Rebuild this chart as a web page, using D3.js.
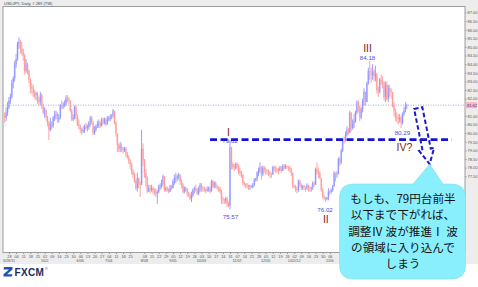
<!DOCTYPE html>
<html>
<head>
<meta charset="utf-8">
<script src="https://d3js.org/d3.v7.min.js"></script>
<style>
    body { margin: 0; background: #fff; }
    svg { display: block; font-family: "Liberation Sans", Arial, sans-serif; }
</style>
</head>
<body>
<div id="chart"></div>
<script>

// USD/JPY daily, 23 Mar 2011 .. 20 Apr 2012 (one row per week)
var startDate = "2011-03-23";
var firstOpen = 81.0;

var closes = [
    80.9, 81.2, 81.5,
    81.9, 82.1, 82.9, 83.2, 84.0,
    84.3, 85.2, 85.3, 84.9, 84.7,
    84.5, 83.6, 84.0, 83.6, 83.1,
    82.7, 82.6, 82.3, 82.2, 82.3,
    81.9, 81.8, 82.2, 81.6, 81.2,
    81.3, 80.9, 80.6, 80.2, 80.6,
    80.4, 80.9, 81.0, 81.1, 80.8,
    80.9, 81.62, 81.55, 81.64, 81.7,
    82.02, 81.96, 81.9, 81.3, 80.8,
    80.9, 81.5, 81.0, 80.5, 80.4,
    80.2, 80.1, 80.2, 80.4, 80.3,
    80.34, 80.6, 80.9, 80.6, 80.0,
    80.2, 80.4, 80.5, 80.6, 80.4,
    80.8, 80.6, 80.8, 80.5, 80.8,
    80.88, 80.93, 81.0, 81.3, 80.6,
    80.0, 79.3, 79.1, 79.2, 79.1,
    79.0, 79.1, 78.8, 78.6, 78.4,
    78.2, 77.8, 77.6, 77.2, 76.8,
    77.4, 77.04, 76.98, 79.1, 78.4,
    77.7, 77.4, 76.6, 76.8, 76.7,
    76.8, 76.7, 76.6, 76.5, 76.6,
    76.9, 76.97, 77.05, 77.5, 76.7,
    76.8, 76.7, 76.6, 76.9, 76.8,
    77.2, 77.4, 77.4, 77.5, 77.6,
    77.2, 77.0, 76.6, 76.8, 76.8,
    76.5, 76.4, 76.2, 76.4, 76.7,
    76.8, 76.7, 76.5, 76.8, 77.0,
    76.84, 76.78, 76.72, 76.66, 76.74,
    76.8, 76.6, 77.2, 76.9, 77.1,
    76.9, 76.83, 76.79, 76.6, 76.2,
    76.14, 76.08, 76.2, 75.9, 75.8,
    79.2, 78.2, 78.03, 77.96, 78.2,
    78.1, 77.8, 77.7, 77.6, 77.1,
    77.03, 76.98, 76.92, 76.88, 76.93,
    76.86, 77.0, 77.28, 77.34, 77.7,
    77.8, 78.0, 77.6, 78.0, 77.9,
    77.84, 77.78, 77.7, 77.63, 77.58,
    78.03, 77.97, 77.92, 77.88, 77.8,
    78.0, 77.8, 78.1, 78.0, 78.1,
    78.04, 77.98, 77.9, 77.7, 76.9,
    76.86, 76.74, 76.69, 77.2, 77.0,
    76.8, 76.92, 76.87, 76.8, 77.0,
    76.82, 76.78, 76.84, 77.1, 77.0,
    77.9, 77.72, 77.68, 77.4, 76.7,
    76.3, 76.22, 76.18, 76.25, 76.6,
    76.58, 76.7, 76.9, 77.7, 77.6,
    77.65, 78.5, 78.3, 79.0, 79.6,
    79.58, 79.9, 80.2, 80.0, 81.2,
    80.3, 80.6, 80.7, 81.2, 81.8,
    81.5, 80.9, 81.4, 81.9, 82.4,
    81.8, 82.9, 83.6, 83.43, 83.37,
    83.6, 83.3, 83.4, 82.5, 82.4,
    83.1, 83.0, 82.9, 82.1, 82.8,
    82.0, 82.6, 82.43, 82.38, 81.6,
    81.3, 80.93, 80.87, 80.8, 80.9,
    80.6, 81.1, 81.3, 81.57, 81.62
];

var highs = [
    81.2, 81.5, 81.8,
    82.1, 82.3, 83.1, 83.3, 84.2,
    84.6, 85.3, 85.55, 85.4, 85.3,
    84.9, 84.6, 84.3, 84.1, 83.7,
    83.2, 82.9, 82.8, 82.5, 82.4,
    82.4, 82.1, 82.4, 82.3, 81.7,
    81.5, 81.4, 81.0, 80.7, 80.9,
    80.7, 81.0, 81.3, 81.3, 81.2,
    81.1, 81.7, 81.9, 81.8, 81.9,
    82.2, 82.2, 82.1, 81.9, 81.4,
    81.1, 81.6, 81.6, 81.1, 80.8,
    80.5, 80.3, 80.4, 80.5, 80.6,
    80.5, 80.7, 81.0, 81.0, 80.7,
    80.4, 80.5, 80.7, 80.8, 80.7,
    80.9, 80.9, 80.9, 80.9, 81.0,
    81.0, 81.1, 81.1, 81.4, 81.3,
    80.7, 80.0, 79.4, 79.5, 79.4,
    79.2, 79.2, 79.2, 78.9, 78.7,
    78.5, 78.3, 77.9, 77.7, 77.3,
    77.7, 77.4, 77.2, 80.2, 79.4,
    78.5, 77.9, 77.5, 77.0, 77.0,
    77.0, 76.9, 76.8, 76.8, 76.7,
    77.0, 77.1, 77.3, 77.6, 77.5,
    76.9, 76.9, 76.8, 77.0, 77.0,
    77.3, 77.6, 77.7, 77.6, 77.7,
    77.6, 77.3, 77.1, 76.9, 76.9,
    76.8, 76.6, 76.5, 76.6, 76.8,
    76.9, 77.0, 76.8, 76.9, 77.1,
    77.1, 76.9, 76.9, 76.8, 76.9,
    76.9, 76.9, 77.3, 77.3, 77.2,
    77.2, 77.0, 76.9, 76.9, 76.7,
    76.3, 76.2, 76.3, 76.3, 76.0,
    79.62, 79.2, 78.3, 78.2, 78.3,
    78.3, 78.2, 78.0, 77.8, 77.6,
    77.2, 77.1, 77.1, 77.0, 77.0,
    77.0, 77.1, 77.4, 77.4, 77.8,
    78.0, 78.3, 78.1, 78.1, 78.1,
    78.0, 77.9, 77.9, 77.8, 77.7,
    78.1, 78.1, 78.1, 78.0, 78.0,
    78.1, 78.1, 78.2, 78.2, 78.2,
    78.1, 78.1, 78.1, 78.0, 77.7,
    77.0, 77.0, 76.9, 77.3, 77.3,
    77.1, 77.0, 77.0, 76.9, 77.1,
    77.0, 76.9, 76.9, 77.2, 77.2,
    78.0, 78.3, 78.0, 77.8, 77.4,
    76.8, 76.4, 76.3, 76.3, 76.8,
    76.7, 76.8, 77.0, 77.8, 77.7,
    77.8, 78.6, 78.6, 79.1, 79.7,
    79.8, 80.1, 80.4, 80.3, 81.3,
    81.2, 80.8, 81.1, 81.3, 81.9,
    81.9, 81.6, 81.5, 82.0, 82.6,
    82.4, 83.0, 83.8, 84.18, 83.8,
    84.0, 83.7, 83.9, 83.5, 82.7,
    83.2, 83.4, 83.3, 83.0, 83.0,
    83.0, 82.8, 82.8, 82.6, 82.4,
    81.8, 81.4, 81.2, 81.1, 81.1,
    81.0, 81.2, 81.5, 81.8, 81.7
];

var lows = [
    80.6, 80.7, 81.0,
    81.4, 81.7, 82.0, 82.6, 83.0,
    83.8, 84.2, 84.9, 84.6, 84.5,
    84.2, 83.4, 83.5, 83.4, 82.9,
    82.3, 82.3, 82.1, 82.0, 81.9,
    81.7, 81.6, 81.6, 81.4, 81.1,
    80.9, 80.7, 80.4, 79.6, 80.1,
    80.2, 80.3, 80.7, 80.8, 80.6,
    80.6, 80.8, 81.4, 81.4, 81.5,
    81.6, 81.8, 81.7, 81.2, 80.7,
    80.7, 80.8, 80.8, 80.4, 80.2,
    80.0, 79.9, 80.0, 80.0, 80.2,
    80.1, 80.2, 80.4, 80.5, 79.9,
    79.9, 80.1, 80.3, 80.3, 80.3,
    80.4, 80.5, 80.5, 80.4, 80.5,
    80.7, 80.7, 80.8, 80.9, 80.5,
    79.8, 78.9, 78.9, 78.9, 78.9,
    78.8, 78.9, 78.6, 78.5, 78.2,
    77.9, 77.6, 77.4, 77.1, 76.7,
    76.6, 76.8, 76.3, 77.0, 78.1,
    77.4, 76.9, 76.5, 76.6, 76.5,
    76.6, 76.5, 76.4, 76.3, 75.9,
    76.5, 76.7, 76.8, 76.9, 76.6,
    76.6, 76.6, 76.5, 76.6, 76.7,
    76.8, 77.0, 77.1, 77.2, 77.3,
    77.0, 76.8, 76.5, 76.5, 76.6,
    76.3, 76.3, 76.1, 76.0, 76.3,
    76.5, 76.6, 76.4, 76.4, 76.6,
    76.6, 76.6, 76.6, 76.5, 76.6,
    76.6, 76.5, 76.6, 76.8, 76.8,
    76.8, 76.7, 76.6, 76.5, 75.9,
    75.9, 75.9, 75.9, 75.7, 75.7,
    75.57, 77.9, 77.9, 77.8, 77.9,
    77.9, 77.6, 77.5, 77.4, 77.0,
    76.9, 76.8, 76.8, 76.7, 76.7,
    76.8, 76.8, 76.9, 77.2, 77.2,
    77.5, 77.7, 77.3, 77.5, 77.7,
    77.6, 77.6, 77.5, 77.4, 77.4,
    77.6, 77.8, 77.7, 77.7, 77.6,
    77.8, 77.7, 77.8, 77.9, 77.9,
    77.9, 77.8, 77.7, 77.5, 76.8,
    76.8, 76.6, 76.5, 76.6, 76.9,
    76.7, 76.7, 76.7, 76.6, 76.7,
    76.6, 76.6, 76.6, 76.7, 76.9,
    77.0, 77.6, 77.4, 77.3, 76.6,
    76.2, 76.1, 76.02, 76.1, 76.1,
    76.4, 76.5, 76.6, 76.9, 77.2,
    77.4, 77.6, 78.1, 78.2, 78.9,
    79.4, 79.5, 79.8, 79.9, 80.0,
    80.1, 80.2, 80.3, 80.6, 81.1,
    81.2, 80.7, 80.8, 81.2, 81.6,
    81.6, 81.8, 82.8, 83.1, 82.9,
    83.1, 83.0, 83.0, 82.3, 82.1,
    82.3, 82.8, 82.6, 81.9, 81.8,
    81.9, 81.8, 82.1, 82.0, 81.5,
    81.0, 80.7, 80.6, 80.5, 80.6,
    80.29, 80.5, 81.0, 81.2, 81.4
];

var lastPrice = 81.62;
var priceTicks = d3.range(74, 87.001, 0.5);
var skipMondays = ["2011-08-01"];

// marked extremes and wave counts
var pointDates = ["2011-10-31", "2011-10-31", "2012-02-01", "2012-03-15", "2012-04-16"];
var pointPrices = [79.62, 75.57, 76.02, 84.18, 80.29];
var waveNames = ["I", "II", "III", "IV?"];
var waveDates = ["2011-10-31", "2012-02-01", "2012-03-15", "2012-04-16"];
var wavePrices = [79.62, 76.02, 84.18, 80.29];

var breakLevel = 79.62;
var noteLines = ["もしも、79円台前半", "以下まで下がれば、", "調整Ⅳ 波が推進Ⅰ 波", "の領域に入り込んで", "しまう"];

function drawChart(divName) {

    var parseDate = d3.timeParse("%Y-%m-%d");
    var fmt = d3.timeFormat("%Y-%m-%d");

    // trading days (weekdays) for each bar
    var dates = [];
    var d = parseDate(startDate);
    while (dates.length < closes.length) {
        if (d.getDay() !== 0 && d.getDay() !== 6) dates.push(d);
        d = d3.timeDay.offset(d, 1);
    }
    var indexOf = function (s) {
        return dates.findIndex(function (dd) { return fmt(dd) === s; });
    };

    var bars = closes.map(function (c, i) {
        return {i: i, open: i ? closes[i - 1] : firstOpen, close: c, high: highs[i], low: lows[i]};
    });

    var plotLeft = 3, plotRight = 465, plotTop = 6.5, plotBottom = 252.5;

    // callout box (covers part of the axes, as in the original)
    var bx0 = 339.5, by0 = 184, bx1 = 465.5, by1 = 279, r = 14;

    var x = d3.scaleLinear()
        .domain([0, 322.8])
        .range([4.7, plotRight]);

    var y = d3.scaleLinear()
        .domain([74, 87])
        .range([236.5, 12.5]);

    var chart = d3.select('#' + divName)
        .append('svg')
        .attr('width', 478)
        .attr('height', 287);

    chart.append("rect")
        .attr("width", 478).attr("height", 264)
        .attr("fill", "#ededed");

    chart.append("text")
        .attr("x", 4).attr("y", 4.8)
        .attr("font-size", 4).attr("fill", "#444")
        .text("USDJPY, Daily, # 289 (TW)");

    chart.append("rect")
        .attr("x", plotLeft).attr("y", plotTop)
        .attr("width", plotRight - plotLeft).attr("height", plotBottom - plotTop)
        .attr("fill", "#fff")
        .attr("stroke", "#9c9c9c").attr("stroke-width", 1);

    chart.append("clipPath").attr("id", "plotclip")
        .append("rect")
        .attr("x", plotLeft).attr("y", plotTop)
        .attr("width", plotRight - plotLeft).attr("height", plotBottom - plotTop);

    var main = chart.append("g").attr("clip-path", "url(#plotclip)");

    // current price line
    main.append("line")
        .attr("x1", plotLeft).attr("x2", plotRight)
        .attr("y1", y(lastPrice)).attr("y2", y(lastPrice))
        .attr("stroke", "#8e8ee8").attr("stroke-width", 0.8)
        .attr("stroke-dasharray", "1,1.5");

    // candles
    var colorOf = function (b) {
        if (b.close > b.open) return {line: "#8484ff", body: "#c6c6ff"};
        if (b.close < b.open) return {line: "#ff8c8c", body: "#ffc6c6"};
        return {line: "#9a9a9a", body: "#c8c8c8"};
    };

    var candle = main.selectAll(".candle")
        .data(bars)
        .enter().append("g")
        .attr("class", "candle");

    candle.append("rect")
        .attr("x", function (b) { return x(b.i) - 0.9; })
        .attr("width", 1.8)
        .attr("y", function (b) { return y(Math.max(b.open, b.close)); })
        .attr("height", function (b) { return Math.max(0.6, Math.abs(y(b.open) - y(b.close))); })
        .attr("fill", function (b) { return colorOf(b).body; });

    candle.append("line")
        .attr("x1", function (b) { return x(b.i); })
        .attr("x2", function (b) { return x(b.i); })
        .attr("y1", function (b) { return y(b.high); })
        .attr("y2", function (b) { return y(b.low); })
        .attr("stroke", function (b) { return colorOf(b).line; })
        .attr("stroke-width", 0.8);

    // right price axis (labels hidden behind the callout / price marker are left out)
    var visibleTicks = priceTicks.filter(function (p) {
        return y(p) < by0 - 2 && Math.abs(y(p) - y(lastPrice)) > 5;
    });
    var yAxis = chart.append("g")
        .attr("transform", "translate(" + plotRight + ",0)")
        .call(d3.axisRight(y).tickValues(visibleTicks).tickSize(1.5).tickPadding(1)
            .tickFormat(d3.format(".2f")));
    yAxis.select(".domain").remove();
    yAxis.selectAll("line").attr("stroke", "#999");
    yAxis.selectAll("text").attr("font-size", 4).attr("fill", "#555")
        .attr("font-family", "Liberation Sans");

    chart.append("rect")
        .attr("x", plotRight + 1).attr("y", y(lastPrice) - 3)
        .attr("width", 11).attr("height", 6)
        .attr("fill", "#ffb4b4");
    chart.append("text")
        .attr("x", plotRight + 2).attr("y", y(lastPrice) + 1.5)
        .attr("font-size", 4).attr("fill", "#3a3ad0")
        .text(d3.format(".2f")(lastPrice));

    // bottom date axis: weekly Monday ticks
    var mondays = d3.range(dates.length).filter(function (i) {
        return dates[i].getDay() === 1 && skipMondays.indexOf(fmt(dates[i])) < 0;
    });
    var visibleMondays = mondays.filter(function (i) { return x(i) < bx0 - 3; });

    var xAxis = chart.append("g")
        .attr("transform", "translate(0," + plotBottom + ")")
        .call(d3.axisBottom(x).tickValues(visibleMondays).tickSize(1.5).tickPadding(1.2)
            .tickFormat(function (i) { return d3.timeFormat("%d")(dates[i]); }));
    xAxis.select(".domain").remove();
    xAxis.selectAll("line").attr("stroke", "#999");
    xAxis.selectAll("text").attr("font-size", 3.8).attr("fill", "#555")
        .attr("font-family", "Liberation Sans");

    var monthTicks = [];
    var lastX = -100;
    mondays.forEach(function (i, k) {
        var prev = k ? dates[mondays[k - 1]] : null;
        if (prev && prev.getMonth() === dates[i].getMonth()) return;
        if (x(i) - lastX < 25 || x(i) > bx0 - 8) return;
        var withYear = !prev || dates[i].getMonth() === 0;
        monthTicks.push({i: i, label: d3.timeFormat(withYear ? "%-m/%d/%y" : "%-m/%d")(dates[i])});
        lastX = x(i);
    });

    chart.selectAll(".month")
        .data(monthTicks)
        .enter().append("text")
        .attr("class", "month")
        .attr("x", function (m) { return x(m.i); })
        .attr("y", 262)
        .attr("text-anchor", "middle")
        .attr("font-size", 3.8).attr("fill", "#555")
        .text(function (m) { return m.label; });

    // annotations: prices
    var labelDy = [3.4, 10, 10.4, -1.2, 7];
    var labelDx = [0, 0.5, -0.5, -2.2, 1.3];
    chart.selectAll(".plabel")
        .data(pointPrices)
        .enter().append("text")
        .attr("class", "plabel")
        .attr("x", function (p, k) { return x(indexOf(pointDates[k])) + labelDx[k]; })
        .attr("y", function (p, k) { return y(p) + labelDy[k]; })
        .attr("text-anchor", "middle")
        .attr("font-size", 6.2)
        .attr("fill", "#4d4de6")
        .text(function (p) { return d3.format(".2f")(p); });

    // wave counts
    var waveDy = [-3.8, 21.5, -9, 23];
    var waveDx = [-1.5, 0.3, -2.2, 3.3];
    chart.selectAll(".wave")
        .data(waveNames)
        .enter().append("text")
        .attr("class", "wave")
        .attr("x", function (w, k) { return x(indexOf(waveDates[k])) + waveDx[k]; })
        .attr("y", function (w, k) { return y(wavePrices[k]) + waveDy[k]; })
        .attr("text-anchor", "middle")
        .attr("font-size", 10.5)
        .attr("fill", "#7a2626")
        .text(function (w) { return w; });

    // wave I top level
    chart.append("line")
        .attr("x1", x(144)).attr("x2", x(313.5))
        .attr("y1", y(breakLevel)).attr("y2", y(breakLevel))
        .attr("stroke", "#1515d0").attr("stroke-width", 2.6)
        .attr("stroke-dasharray", "7,3.5");

    // dashed block arrow pointing down
    var ax0 = x(290), ay0 = y(81.45), ax1 = x(298), ay1 = y(78.2);
    var len = Math.sqrt((ax1 - ax0) * (ax1 - ax0) + (ay1 - ay0) * (ay1 - ay0));
    var ang = -Math.atan2(ax1 - ax0, ay1 - ay0) * 180 / Math.PI;
    var bw = 4.2, hw = 7.6, hl = 15;
    var arrowPts = [[-bw, 0], [bw, 0], [bw, len - hl], [hw, len - hl], [0, len], [-hw, len - hl], [-bw, len - hl]];
    chart.append("path")
        .attr("d", d3.line()(arrowPts) + "Z")
        .attr("transform", "translate(" + ax0 + "," + ay0 + ") rotate(" + ang + ")")
        .attr("fill", "none")
        .attr("stroke", "#1a1acc").attr("stroke-width", 2)
        .attr("stroke-dasharray", "4.5,2.5");

    // callout
    var tipX = ax1, tipY = ay1;
    var callout = "M" + (bx0 + r) + "," + by0 +
        " L413," + by0 + " L" + tipX + "," + tipY + " L443," + by0 +
        " L" + (bx1 - r) + "," + by0 + " Q" + bx1 + "," + by0 + " " + bx1 + "," + (by0 + r) +
        " L" + bx1 + "," + (by1 - r) + " Q" + bx1 + "," + by1 + " " + (bx1 - r) + "," + by1 +
        " L" + (bx0 + r) + "," + by1 + " Q" + bx0 + "," + by1 + " " + bx0 + "," + (by1 - r) +
        " L" + bx0 + "," + (by0 + r) + " Q" + bx0 + "," + by0 + " " + (bx0 + r) + "," + by0 + " Z";
    chart.append("path")
        .attr("d", callout)
        .attr("fill", "#8aeffd")
        .attr("stroke", "#7fdcea").attr("stroke-width", 0.6);

    chart.selectAll(".note")
        .data(noteLines)
        .enter().append("text")
        .attr("class", "note")
        .attr("x", 403)
        .attr("y", function (t, k) { return 203 + k * 16.3; })
        .attr("text-anchor", "middle")
        .attr("font-family", "Noto Sans CJK JP")
        .attr("font-size", 11.6)
        .attr("fill", "#111")
        .text(function (t) { return t; });

    // FXCM logo
    var logo = chart.append("g").attr("transform", "translate(3.5,267)");
    logo.append("path")
        .attr("d", "M0.5,0 L9,0 L9,2.4 L3.6,7.2 L9,7.2 L8.2,9.6 L0,9.6 L0,7.3 L5.4,2.4 L0,2.4 Z")
        .attr("fill", "#1f55b0");
    logo.append("text")
        .attr("x", 11).attr("y", 9.3)
        .attr("font-size", 10).attr("font-weight", "bold")
        .attr("fill", "#1c2a5e")
        .attr("letter-spacing", 0.3)
        .text("FXCM");
    logo.append("text")
        .attr("x", 41.5).attr("y", 3)
        .attr("font-size", 3.5)
        .attr("fill", "#1c2a5e")
        .text("®");
}

drawChart("chart");
</script>
</body>
</html>
